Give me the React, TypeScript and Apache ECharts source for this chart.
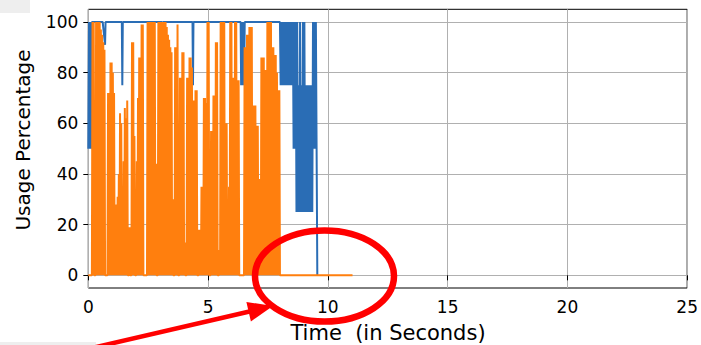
import React, { useEffect, useRef } from 'react';
import * as echarts from 'echarts';

const xTicks = [0, 5, 10, 15, 20, 25];
const yTicks = [0, 20, 40, 60, 80, 100];

const blueUsage: [number, number][] = [
  [0.00, 50], [0.03, 100], [0.06, 50], [0.09, 100], [0.12, 50], [0.15, 100],
  [0.60, 100], [0.70, 91], [0.72, 100],
  [1.40, 100], [1.42, 75], [1.44, 100],
  [3.07, 100], [3.09, 75], [3.11, 100],
  [4.35, 100], [4.37, 75], [4.39, 100],
  [6.36, 100], [6.38, 75], [6.41, 100], [6.44, 75], [6.47, 100], [6.50, 75], [6.53, 100],
  [8.00, 100], [8.03, 75], [8.06, 100], [8.09, 75], [8.12, 100], [8.15, 75], [8.18, 100],
  [8.21, 75], [8.24, 100], [8.27, 75], [8.30, 100], [8.33, 75], [8.36, 100], [8.39, 75],
  [8.42, 100], [8.45, 75], [8.48, 100], [8.51, 75], [8.54, 100], [8.57, 50], [8.60, 100],
  [8.63, 50], [8.66, 100], [8.69, 25], [8.72, 100], [8.75, 25], [8.78, 75], [8.81, 25],
  [8.84, 100], [8.87, 25], [8.90, 75], [8.93, 25], [8.96, 100], [8.99, 25], [9.02, 100],
  [9.05, 25], [9.08, 75], [9.11, 25], [9.14, 75], [9.17, 25], [9.20, 75], [9.23, 25],
  [9.26, 75], [9.29, 25], [9.32, 75], [9.35, 25], [9.38, 100], [9.41, 50], [9.44, 100],
  [9.47, 50], [9.50, 100], [9.53, 50], [9.56, 0],
];

// orange samples, one every 0.025 s from t = 0 to t = 7.975
const orangeStep = 0.025;
const orangeSamples: number[] = [
  0, 0, 0, 0, 0, 0, 0, 100, 0, 100, 0, 0, 0, 100, 0, 100, 0, 100, 0, 100,
  0, 97, 0, 95, 0, 92, 0, 89, 0, 0, 0, 0, 0, 72, 0, 72, 0, 84, 0, 84,
  0, 80, 0, 72, 0, 26, 0, 28, 0, 31, 0, 40, 0, 64, 0, 60, 0, 33, 0, 45,
  0, 66, 0, 62, 0, 69, 0, 0, 0, 19, 0, 0, 0, 92, 0, 92, 0, 55, 0, 0,
  0, 45, 0, 70, 0, 86, 0, 86, 0, 99, 0, 99, 0, 0, 0, 0, 0, 0, 0, 100,
  0, 100, 0, 100, 0, 100, 0, 100, 0, 100, 0, 100, 0, 44, 0, 0, 0, 100, 0, 100,
  0, 100, 0, 100, 0, 100, 0, 100, 0, 100, 0, 98, 0, 95, 0, 93, 0, 90, 0, 88,
  0, 30, 0, 0, 0, 90, 0, 90, 0, 99, 0, 0, 0, 78, 0, 78, 0, 88, 0, 88,
  0, 13, 0, 0, 0, 78, 0, 78, 0, 86, 0, 86, 0, 82, 0, 69, 0, 69, 0, 73,
  0, 73, 0, 0, 0, 18, 0, 18, 0, 35, 0, 35, 0, 70, 0, 70, 0, 68, 0, 100,
  0, 100, 0, 0, 0, 57, 0, 57, 0, 71, 0, 71, 0, 92, 0, 92, 0, 0, 0, 10,
  0, 100, 0, 100, 0, 100, 0, 100, 0, 60, 0, 60, 0, 23, 0, 35, 0, 100, 0, 100,
  0, 78, 0, 78, 0, 100, 0, 100, 0, 77, 0, 77, 0, 0, 0, 0, 0, 0, 0, 0,
  0, 90, 0, 90, 0, 95, 0, 95, 0, 98, 0, 98, 0, 98, 0, 67, 0, 67, 0, 67,
  0, 59, 0, 59, 0, 38, 0, 38, 0, 86, 0, 86, 0, 86, 0, 81, 0, 81, 0, 100,
  0, 100, 0, 100, 0, 100, 0, 90, 0, 90, 0, 87, 0, 87, 0, 80, 0, 73, 0, 73,
];
const orangeTail: [number, number][] = [[8.0, 0], [11.03, 0]];

const FONT = 'DejaVu Sans';

export default function App() {
  const ref = useRef<HTMLDivElement>(null);
  useEffect(() => {
    const chart = echarts.init(ref.current!, null, { renderer: 'svg' });
    const orangeUsage: [number, number][] = orangeSamples
      .map((v, i) => [Math.round(i * orangeStep * 1000) / 1000, v] as [number, number])
      .concat(orangeTail);
    // arrow geometry
    const tip = [273, 306];
    const start = [92, 348];
    const dx = tip[0] - start[0];
    const dy = tip[1] - start[1];
    const len = Math.sqrt(dx * dx + dy * dy);
    const ux = dx / len, uy = dy / len;
    const nx = -uy, ny = ux;
    const headLen = 25, headHalf = 10;
    const bx = tip[0] - headLen * ux, by = tip[1] - headLen * uy;
    chart.setOption({
      animation: false,
      backgroundColor: '#ffffff',
      grid: {
        left: 88.3, right: 12.7, top: 9.3, bottom: 57,
        show: true, borderColor: '#000', borderWidth: 1, backgroundColor: 'transparent',
      },
      xAxis: {
        type: 'value', min: 0, max: 25, interval: 5,
        axisLine: { show: false },
        axisTick: { show: true, length: 5, lineStyle: { color: '#000', width: 1 }, customValues: xTicks },
        axisLabel: { fontSize: 17, color: '#000', fontFamily: FONT, margin: 10, customValues: xTicks },
        splitLine: { show: true, lineStyle: { color: '#b0b0b0', width: 1 } },
      },
      yAxis: {
        type: 'value', min: -5, max: 105,
        axisLine: { show: false },
        axisTick: { show: true, length: 5, lineStyle: { color: '#000', width: 1 }, customValues: yTicks },
        axisLabel: { fontSize: 17, color: '#000', fontFamily: FONT, margin: 10, customValues: yTicks },
        splitLine: { show: true, lineStyle: { color: '#b0b0b0', width: 1 } },
      },
      series: [
        {
          type: 'line', data: blueUsage, showSymbol: false, symbol: 'none',
          lineStyle: { color: '#2a6db5', width: 2 }, itemStyle: { color: '#2a6db5' },
        },
        {
          type: 'line', data: orangeUsage, showSymbol: false, symbol: 'none',
          lineStyle: { color: '#ff7f0e', width: 2 }, itemStyle: { color: '#ff7f0e' },
        },
      ],
      graphic: [
        { type: 'rect', shape: { x: 0, y: 0, width: 30, height: 13 }, style: { fill: '#eeeeee' }, z: -1 },
        { type: 'rect', shape: { x: 0, y: 342, width: 96, height: 3 }, style: { fill: '#eeeeee' }, z: -1 },
        {
          type: 'text', x: 23, y: 140, rotation: Math.PI / 2,
          style: { text: 'Usage Percentage', fontSize: 20, fontFamily: FONT, fill: '#000', align: 'center', verticalAlign: 'middle' },
        },
        {
          type: 'text', x: 388, y: 333,
          style: { text: 'Time  (in Seconds)', fontSize: 21, fontFamily: FONT, fill: '#000', align: 'center', verticalAlign: 'middle' },
        },
        {
          type: 'ellipse', shape: { cx: 324.5, cy: 276, rx: 69.5, ry: 45.5 },
          style: { fill: 'none', stroke: '#ff0000', lineWidth: 6.5 }, z: 100,
        },
        {
          type: 'line', shape: { x1: start[0], y1: start[1], x2: bx + ux * 2, y2: by + uy * 2 },
          style: { stroke: '#ff0000', lineWidth: 4.5 }, z: 100,
        },
        {
          type: 'polygon',
          shape: { points: [[tip[0], tip[1]], [bx + headHalf * nx, by + headHalf * ny], [bx - headHalf * nx, by - headHalf * ny]] },
          style: { fill: '#ff0000' }, z: 100,
        },
      ],
    });
    return () => chart.dispose();
  }, []);
  return (
    <div
      ref={ref}
      style={{ position: 'fixed', left: 0, top: 0, width: 701, height: 345, background: '#fff' }}
    />
  );
}
